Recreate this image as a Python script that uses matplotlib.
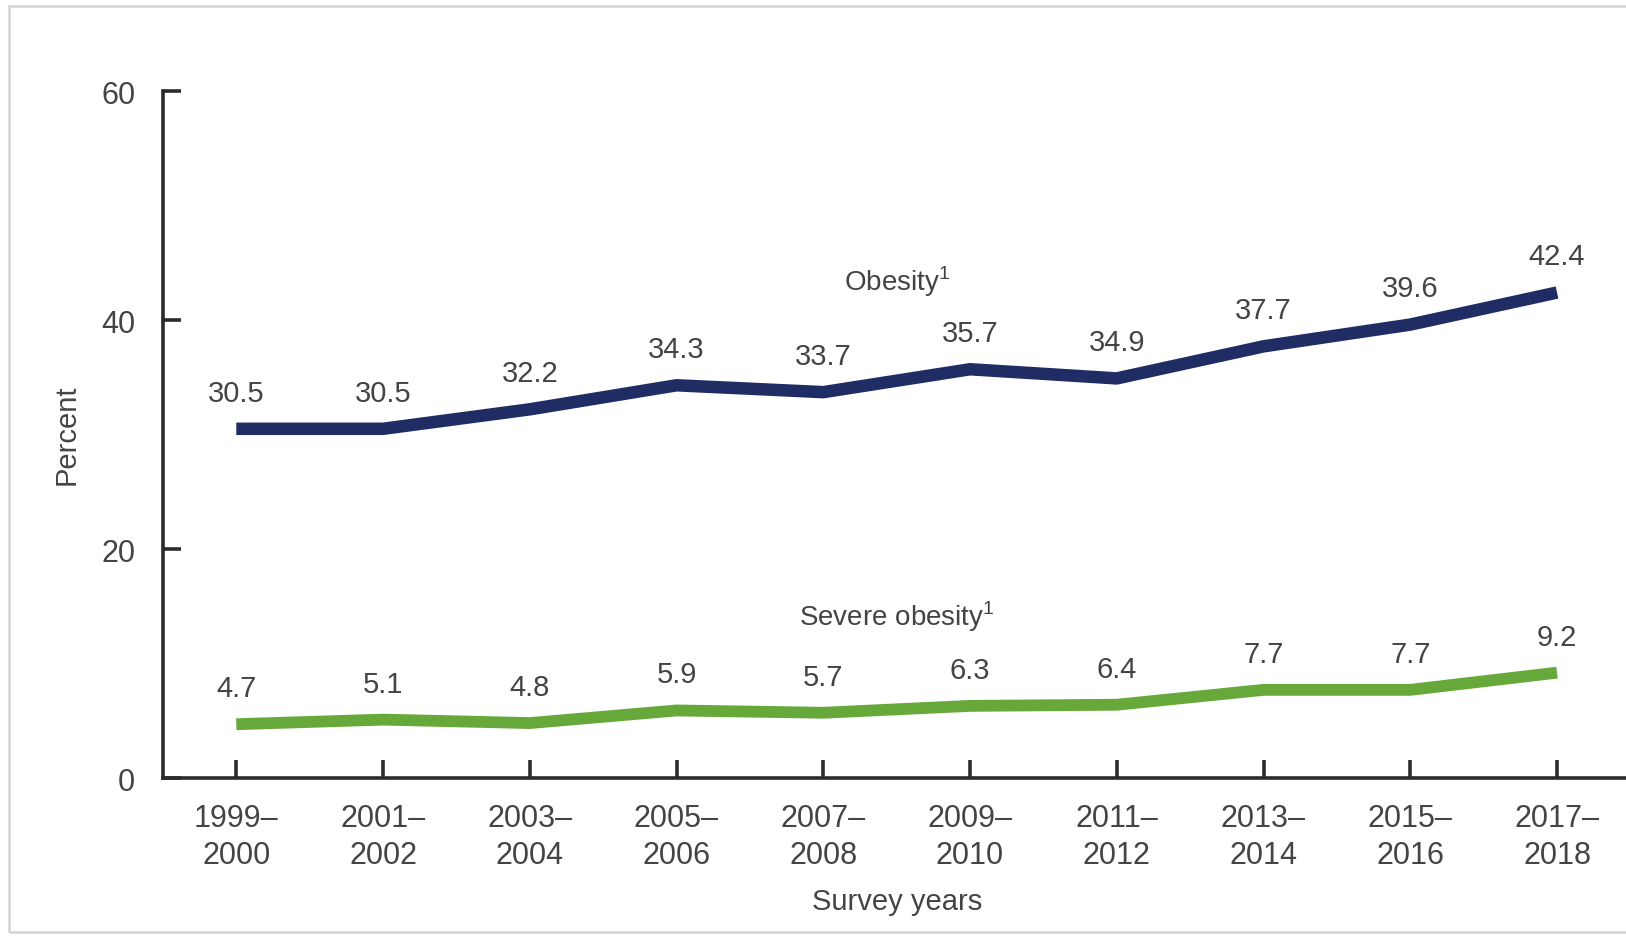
import matplotlib
matplotlib.use('Agg')
import matplotlib.pyplot as plt
from matplotlib.patches import Rectangle

plt.rcParams['font.family'] = ['Liberation Sans', 'DejaVu Sans']
plt.rcParams['mathtext.fontset'] = 'custom'
plt.rcParams['mathtext.rm'] = 'Liberation Sans'

survey_years = ['1999–\n2000', '2001–\n2002', '2003–\n2004', '2005–\n2006', '2007–\n2008',
                '2009–\n2010', '2011–\n2012', '2013–\n2014', '2015–\n2016', '2017–\n2018']
obesity = [30.5, 30.5, 32.2, 34.3, 33.7, 35.7, 34.9, 37.7, 39.6, 42.4]
severe_obesity = [4.7, 5.1, 4.8, 5.9, 5.7, 6.3, 6.4, 7.7, 7.7, 9.2]

navy = '#1f2d64'
green = '#67a83b'
text_col = '#444444'
axis_col = '#2b2b2b'

fig = plt.figure(figsize=(16.26, 9.37), dpi=100)
ax = fig.add_axes([0.1002, 0.1686, 0.8998, 0.7332])

x = range(len(survey_years))
ax.plot(x, obesity, color=navy, lw=9, solid_capstyle='butt', solid_joinstyle='round')
ax.plot(x, severe_obesity, color=green, lw=8.5, solid_capstyle='butt', solid_joinstyle='round')

for xi, v in zip(x, obesity):
    ax.annotate(f'{v}', (xi, v), xytext=(0, 26), textcoords='offset points',
                ha='center', va='center', fontsize=21, color=text_col)
for xi, v in zip(x, severe_obesity):
    ax.annotate(f'{v}', (xi, v), xytext=(0, 26), textcoords='offset points',
                ha='center', va='center', fontsize=21, color=text_col)

ax.text(4.5, 43.4, r'Obesity$^\mathregular{1}$', ha='center', va='center',
        fontsize=20, color=text_col)
ax.text(4.5, 14.2, r'Severe obesity$^\mathregular{1}$', ha='center', va='center',
        fontsize=20, color=text_col)

ax.set_xlim(-0.5, 9.47)
ax.set_ylim(0, 60)
ax.set_yticks([0, 20, 40, 60])
ax.set_xticks(list(x))
ax.set_xticklabels(survey_years, linespacing=1.3)

for side in ['top', 'right']:
    ax.spines[side].set_visible(False)
for side in ['left', 'bottom']:
    ax.spines[side].set_color(axis_col)
    ax.spines[side].set_linewidth(2.6)

ax.tick_params(axis='both', direction='in', length=13, width=2.6, color=axis_col,
               labelsize=22, labelcolor=text_col)
ax.tick_params(axis='y', pad=20)
ax.tick_params(axis='x', pad=18)

fig.text(67 / 1626, 1 - 435 / 937, 'Percent', rotation=90, ha='center', va='center',
         fontsize=21, color=text_col)
fig.text(897 / 1626, 1 - 902 / 937, 'Survey years', ha='center', va='center',
         fontsize=21, color=text_col)

# light frame around the picture
fig.patches.append(Rectangle((9 / 1626, 4 / 937), 1.2, 1 - 11 / 937,
                             transform=fig.transFigure, fill=False,
                             edgecolor='#d4d4d4', lw=1.8))

fig.savefig('out.png', dpi=100)
